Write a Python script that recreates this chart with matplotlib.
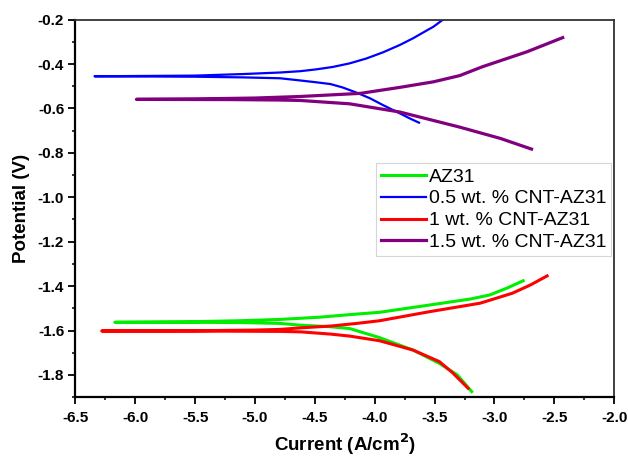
import matplotlib
matplotlib.use('Agg')
import matplotlib.pyplot as plt
from matplotlib.ticker import MultipleLocator, FuncFormatter

plt.rcParams['font.family'] = ['Liberation Sans', 'DejaVu Sans']

# Tafel-Kurven: log(Strom) gegen Potential, vom kathodischen Ende über Ecorr zum anodischen Ende
labels = ['AZ31', '0.5 wt. % CNT-AZ31', '1 wt. % CNT-AZ31', '1.5 wt. % CNT-AZ31']
colors = ['#00ee00', '#0000ff', '#ff0000', '#800080']
widths = [2.2, 1.6, 2.2, 2.3]

az31_i = [-3.19, -3.31, -3.46, -3.68, -3.96, -4.21, -4.37, -4.62, -4.79, -5.13, -5.60, -6.17,
          -5.60, -5.13, -4.79, -4.46, -4.20, -3.96, -3.54, -3.20, -3.04, -2.90, -2.76]
az31_e = [-1.875, -1.800, -1.748, -1.688, -1.632, -1.591, -1.583, -1.576, -1.568, -1.564, -1.563, -1.563,
          -1.561, -1.556, -1.550, -1.540, -1.528, -1.518, -1.485, -1.458, -1.440, -1.410, -1.376]

cnt05_i = [-3.63, -3.71, -3.79, -3.93, -4.04, -4.15, -4.27, -4.37, -4.49, -4.62, -4.79, -5.10, -5.50, -6.34,
           -5.50, -5.10, -4.79, -4.62, -4.49, -4.35, -4.21, -4.07, -3.93, -3.79, -3.68, -3.56, -3.51, -3.43]
cnt05_e = [-0.664, -0.644, -0.622, -0.585, -0.554, -0.529, -0.505, -0.490, -0.482, -0.474, -0.464, -0.460, -0.457, -0.455,
           -0.452, -0.445, -0.438, -0.432, -0.424, -0.413, -0.397, -0.375, -0.347, -0.314, -0.284, -0.247, -0.232, -0.200]

cnt1_i = [-3.22, -3.35, -3.46, -3.68, -3.96, -4.21, -4.37, -4.62, -4.79, -5.20, -6.28,
          -5.50, -5.00, -4.79, -4.62, -4.37, -4.15, -3.96, -3.54, -3.12, -2.85, -2.70, -2.56]
cnt1_e = [-1.860, -1.790, -1.740, -1.688, -1.646, -1.625, -1.616, -1.606, -1.604, -1.603, -1.602,
          -1.601, -1.598, -1.595, -1.588, -1.580, -1.568, -1.556, -1.515, -1.477, -1.432, -1.395, -1.354]

cnt15_i = [-2.69, -2.95, -3.29, -3.79, -4.21, -4.62, -4.79, -5.20, -5.99,
           -5.50, -5.00, -4.62, -4.12, -3.79, -3.51, -3.29, -3.10, -2.73, -2.43]
cnt15_e = [-0.783, -0.735, -0.684, -0.616, -0.579, -0.564, -0.562, -0.560, -0.559,
           -0.557, -0.553, -0.546, -0.532, -0.505, -0.480, -0.452, -0.412, -0.345, -0.281]

currents = [az31_i, cnt05_i, cnt1_i, cnt15_i]
potentials = [az31_e, cnt05_e, cnt1_e, cnt15_e]

fig = plt.figure(figsize=(6.28, 4.57), dpi=100)
ax = fig.add_axes([0.120, 0.131, 0.858, 0.826])

for i_, e_, lbl, c, lw in zip(currents, potentials, labels, colors, widths):
    ax.plot(i_, e_, color=c, linewidth=lw, label=lbl, solid_joinstyle='round')

ax.set_xlim(-6.5, -2.0)
ax.set_ylim(-1.9, -0.2)
ax.xaxis.set_major_locator(MultipleLocator(0.5))
ax.xaxis.set_minor_locator(MultipleLocator(0.25))
ax.yaxis.set_major_locator(MultipleLocator(0.2))
ax.yaxis.set_minor_locator(MultipleLocator(0.1))
fmt = FuncFormatter(lambda v, p: f'{v:.1f}')
ax.xaxis.set_major_formatter(fmt)
ax.yaxis.set_major_formatter(fmt)

ax.tick_params(axis='both', which='major', direction='out', length=5, width=1.3,
               labelsize=11, pad=3)
ax.tick_params(axis='x', which='major', pad=5)
ax.tick_params(axis='both', which='minor', direction='out', length=2.5, width=1.1)
for lab in ax.get_xticklabels() + ax.get_yticklabels():
    lab.set_fontweight('bold')

for side in ['left', 'bottom']:
    ax.spines[side].set_linewidth(1.6)
    ax.spines[side].set_color('black')
for side in ['top', 'right']:
    ax.spines[side].set_linewidth(1.3)
    ax.spines[side].set_color('#333333')

ax.set_xlabel('Current (A/cm$^\\mathbf{2}$)', fontsize=13.5, fontweight='bold', labelpad=5)
ax.set_ylabel('Potential (V)', fontsize=13.5, fontweight='bold', labelpad=6)

leg = ax.legend(loc='upper right', bbox_to_anchor=(0.994, 0.62), borderaxespad=0,
                fontsize=14, frameon=True, fancybox=False, handlelength=2.3,
                handletextpad=0.15, labelspacing=0.22, borderpad=0.25)
leg.get_frame().set_edgecolor('#cccccc')
leg.get_frame().set_linewidth(0.8)

plt.savefig('out.png', dpi=100)
